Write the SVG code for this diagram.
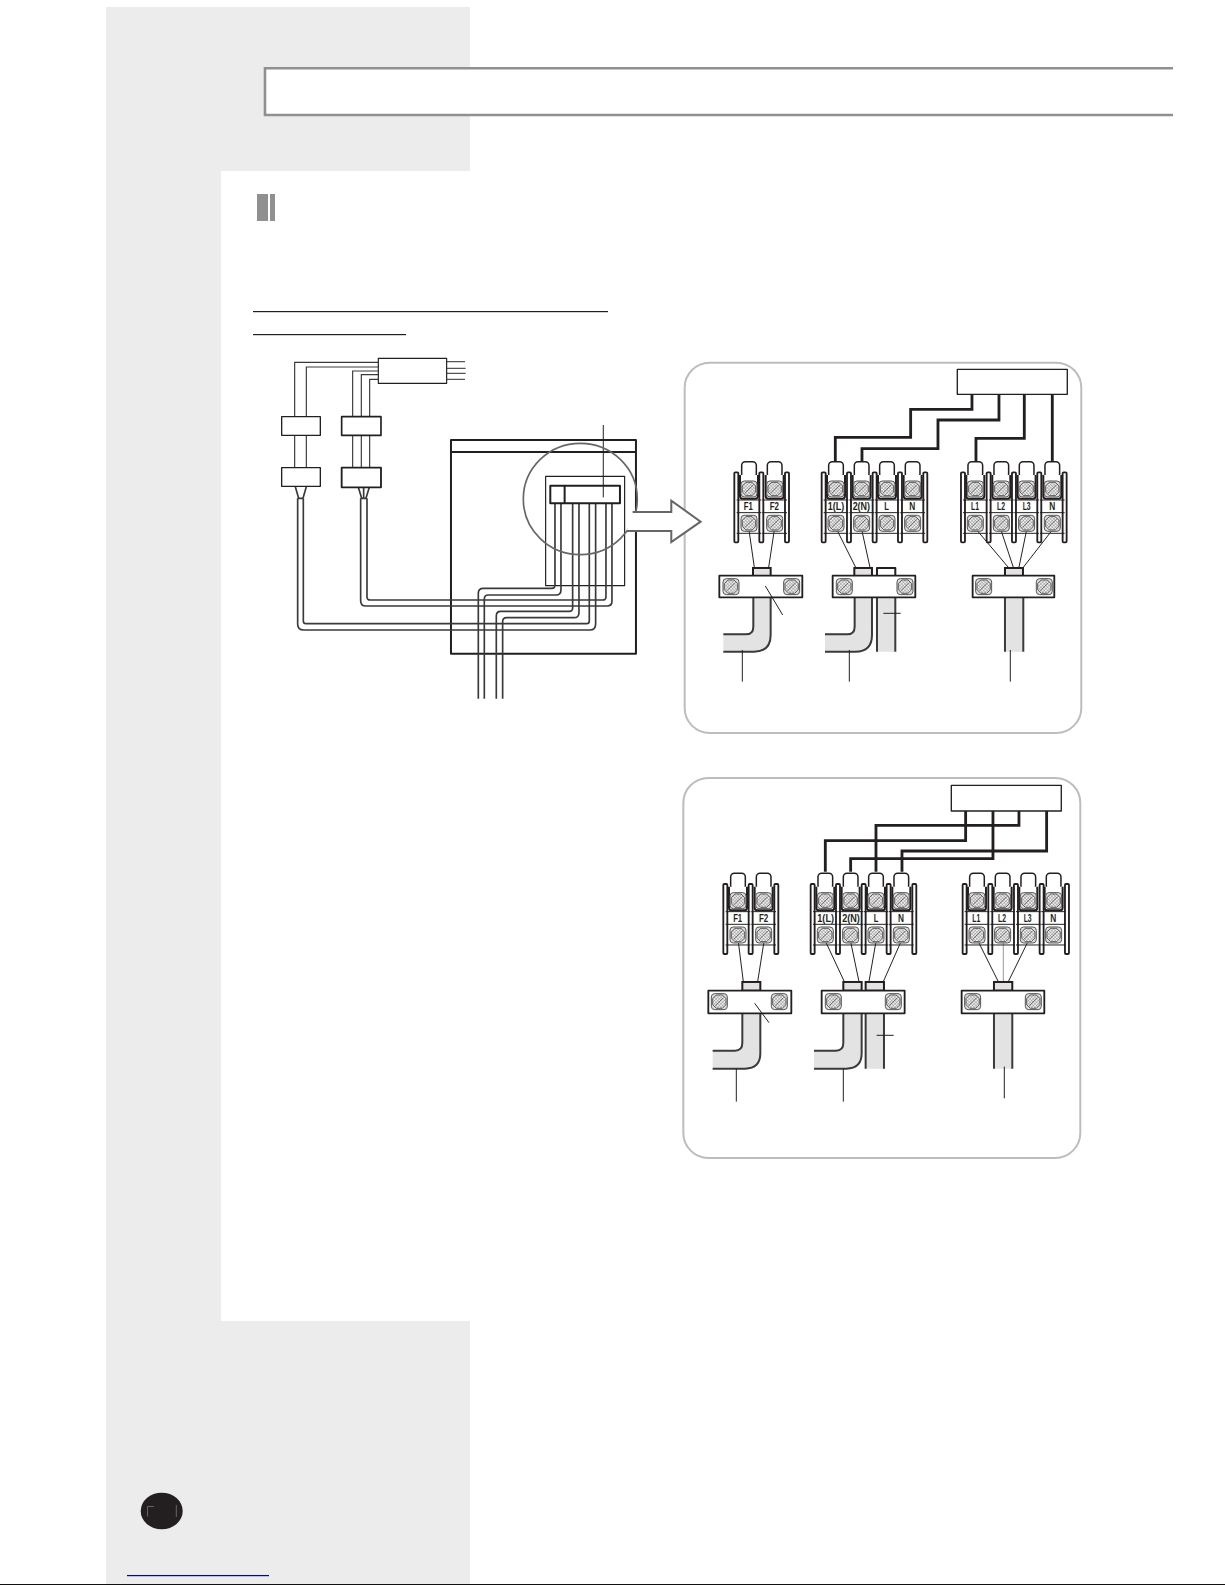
<svg xmlns="http://www.w3.org/2000/svg" xmlns:xlink="http://www.w3.org/1999/xlink" width="1225" height="1585" viewBox="0 0 1225 1585">
<style>
.k{fill:none;stroke:#231f20;stroke-linejoin:round}
.w{fill:#fff;stroke:#231f20;stroke-linejoin:round}
.g{fill:#e3e3e3;stroke:#231f20;stroke-width:6}
.cab{fill:none;stroke:#3a3a3a;stroke-width:5}
.lead{fill:none;stroke:#231f20;stroke-width:3}
.thick{fill:none;stroke:#231f20;stroke-width:8.5;stroke-linejoin:miter}
.panel{fill:#fff;stroke:#bdbdbd;stroke-width:6}
.lbl{font-family:"Liberation Sans",sans-serif;font-weight:700;font-size:33px;fill:#231f20;text-anchor:middle}
</style>
<defs>
<pattern id="hatch" width="7" height="7" patternUnits="userSpaceOnUse" patternTransform="rotate(45)">
<rect width="7" height="7" fill="#eee"/><path d="M0 0H7M0 0V7" stroke="#555" stroke-width="1.6"/>
</pattern>
<g id="screw">
<rect x="-24" y="-24" width="48" height="48" rx="10" fill="#dcdcdc" stroke="#555" stroke-width="3"/>
<path d="M-9-20H9L20-9V9L9 20H-9L-20 9V-9Z" fill="url(#hatch)" stroke="#444" stroke-width="2.5"/>
<path d="M-12 12L12-12" stroke="#444" stroke-width="2"/>
</g>
<rect id="bar" x="-6" y="0" width="12" height="210" rx="3" fill="#fff" stroke="#231f20" stroke-width="5.5"/>
<g id="cell">
<rect x="-22" y="305" width="44" height="48" rx="11" class="w" stroke-width="4.5"/>
<path d="M-27 345V408Q-27 416-19 416H19Q27 416 27 408V345" class="w" stroke-width="6"/>
<path d="M-37 420H37M-37 458H37M-37 520H37" class="k" stroke-width="3"/>
<use xlink:href="#screw" y="387"/>
<use xlink:href="#screw" y="490"/>
</g>
</defs>

<g id="background">
<path d="M106 7H470V171H221V1321H470V1584H106Z" fill="#ececec"/>
<rect x="0" y="1584" width="1225" height="1" fill="#111"/>
<rect x="127" y="1575" width="142" height="1.2" fill="#0000c0"/>
</g>

<g id="title-box">
<path d="M1173 68.3H265V115H1173" fill="#fff" stroke="#909090" stroke-width="2.6"/>
</g>

<g id="section-mark" fill="#909090">
<rect x="257" y="194" width="11" height="27"/>
<rect x="270" y="194" width="5" height="27"/>
</g>

<g id="underlines" fill="#231f20">
<rect x="253" y="311" width="355" height="1.2"/>
<rect x="253" y="334" width="153" height="1.2"/>
</g>

<g id="page-badge">
<ellipse cx="161.7" cy="1511" rx="21" ry="18.3" fill="#231f20"/>
<path d="M147.5 1516.5V1506.5H154M176.3 1505V1517" fill="none" stroke="#777" stroke-width="0.8"/>
</g>

<g id="panel-a-frame" transform="translate(680 360) scale(.3333)">
<rect class="panel" x="14" y="8" width="1190" height="1111" rx="75"/>
</g>
<g id="panel-b-frame" transform="translate(680 770) scale(.3333)">
<rect class="panel" x="10" y="24" width="1191" height="1140" rx="75"/>
</g>

<g id="wiring-overview" transform="translate(230 340) scale(.3333)">
<g id="unit-box" class="k">
<rect x="663" y="300" width="555" height="641" stroke-width="6"/>
<path d="M663 336H1218" stroke-width="6"/>
<rect x="947" y="409" width="237" height="328" stroke-width="3.5"/>
</g>
<g id="connectors">
<path class="cab" style="stroke-width:3.5" d="M445 67H194V229M445 81H229V229M445 93H368V229M445 104H394V229M445 118H419V229M194 286V383M229 286V383M368 286V383M394 286V383M419 286V383"/>
<path fill="none" stroke="#555" stroke-width="3.5" d="M650 65H705M650 85H707M650 100H707M650 118H705"/>
<path class="cab" d="M196 440L206 475M229 440L219 475M385 442L395 475M418 442L408 475M401 442V475"/>
<path class="cab" d="M203 475H220M392 475H411"/>
<path class="cab" d="M203 475V852Q203 870 221 870H1080Q1097 870 1097 852V490M220 475V843Q220 851 228 851H1070Q1078 851 1078 843V490"/>
<path class="cab" d="M392 475V782Q392 798 408 798H1132Q1146 798 1146 784V490M411 475V770Q411 780 421 780H1118Q1128 780 1128 770V490"/>
<path class="cab" d="M993 490V750Q993 765 978 765H775Q763 765 763 777V1076M975 490V735Q975 745 965 745H760Q745 745 745 760V1076"/>
<path class="cab" d="M1047 490V818Q1047 833 1032 833H830Q818 833 818 845V1076M1028 490V804Q1028 814 1018 814H812Q799 814 799 827V1076"/>
<path class="lead" d="M1120 255V472"/>
</g>
<g id="top-box"><rect x="445" y="55" width="205" height="75" class="w" stroke-width="3.5"/></g>
<g id="box-1"><rect x="155" y="230" width="116" height="56" class="w" stroke-width="4"/></g>
<g id="box-2"><rect x="335" y="230" width="118" height="56" class="w" stroke-width="5"/></g>
<g id="box-3"><rect x="155" y="383" width="116" height="56" class="w" stroke-width="4"/></g>
<g id="box-4"><rect x="335" y="383" width="118" height="59" class="w" stroke-width="5.5"/></g>
<g id="terminal">
<rect x="961" y="437" width="209" height="53" class="w" stroke-width="6"/>
<path d="M1004 437V490" class="k" stroke-width="6"/>
<path class="lead" d="M1120 437V472"/>
</g>
<g id="detail-circle"><ellipse cx="1051" cy="477" rx="171" ry="167" fill="none" stroke="#666" stroke-width="5"/></g>
<g id="detail-arrow">
<path d="M1208 516H1324V482L1412 545L1324 606V573H1190" fill="#fff" stroke="#666" stroke-width="6" stroke-linejoin="miter"/>
</g>
</g>

<g id="panel-a" transform="translate(680 360) scale(.3333)">
<g id="a-connectors">
<path class="thick" d="M876 103V148H692V232H466V305M957 103V180H774V266H546V305M1033 103V235H888V305M1117 103V305"/>
<path class="lead" d="M207 510L223 622M283 510L266 622M470 508L527 622M545 508L570 622M886 505L985 622M963 510L1000 622M1040 510L1017 622M1117 510L1030 622"/>
</g>
<g id="a-source"><rect x="832" y="28" width="330" height="75" class="w" stroke-width="4"/></g>
<g id="a-block-f">
<use xlink:href="#bar" x="169" y="337"/><use xlink:href="#bar" x="244" y="337"/><use xlink:href="#bar" x="321" y="337"/>
<use xlink:href="#cell" x="207"/><use xlink:href="#cell" x="284"/>
<text class="lbl" x="205" y="449" textLength="27" lengthAdjust="spacingAndGlyphs">F1</text><text class="lbl" x="283" y="449" textLength="28" lengthAdjust="spacingAndGlyphs">F2</text>
</g>
<g id="a-block-power">
<use xlink:href="#bar" x="431" y="337"/><use xlink:href="#bar" x="507" y="337"/><use xlink:href="#bar" x="584" y="337"/><use xlink:href="#bar" x="660" y="337"/><use xlink:href="#bar" x="736" y="337"/>
<use xlink:href="#cell" x="468"/><use xlink:href="#cell" x="545"/><use xlink:href="#cell" x="621"/><use xlink:href="#cell" x="698"/>
<text class="lbl" x="468" y="449" textLength="49" lengthAdjust="spacingAndGlyphs">1(L)</text><text class="lbl" x="544" y="449" textLength="52" lengthAdjust="spacingAndGlyphs">2(N)</text><text class="lbl" x="620" y="449" textLength="14" lengthAdjust="spacingAndGlyphs">L</text><text class="lbl" x="697" y="449" textLength="18" lengthAdjust="spacingAndGlyphs">N</text>
</g>
<g id="a-block-3ph">
<use xlink:href="#bar" x="849" y="337"/><use xlink:href="#bar" x="926" y="337"/><use xlink:href="#bar" x="1002" y="337"/><use xlink:href="#bar" x="1078" y="337"/><use xlink:href="#bar" x="1154" y="337"/>
<use xlink:href="#cell" x="886"/><use xlink:href="#cell" x="964"/><use xlink:href="#cell" x="1040"/><use xlink:href="#cell" x="1117"/>
<text class="lbl" x="885" y="449" textLength="24" lengthAdjust="spacingAndGlyphs">L1</text><text class="lbl" x="963" y="449" textLength="24" lengthAdjust="spacingAndGlyphs">L2</text><text class="lbl" x="1040" y="449" textLength="24" lengthAdjust="spacingAndGlyphs">L3</text><text class="lbl" x="1117" y="449" textLength="18" lengthAdjust="spacingAndGlyphs">N</text>
</g>
<g id="a-clamp-1">
<rect class="g" x="219" y="624" width="53" height="24"/>
<path fill="#e3e3e3" d="M130 823H197Q220 823 220 800V712H272V825Q272 875 222 875H130Z"/>
<path class="cab" style="stroke-width:6" d="M130 823H197Q220 823 220 800V712M272 712V825Q272 875 222 875H130"/>
<rect x="118" y="647" width="249" height="65" class="w" stroke-width="5.5"/>
<use xlink:href="#screw" x="153" y="680"/><use xlink:href="#screw" x="335" y="680"/>
<path class="lead" d="M256 678L308 765M187 870V965"/>
</g>
<g id="a-clamp-2">
<rect class="g" x="523" y="624" width="53" height="24"/>
<rect x="591" y="624" width="55" height="24" class="w" stroke-width="6"/>
<path fill="#e3e3e3" d="M435 823H501Q524 823 524 800V712H576V825Q576 875 526 875H435Z"/>
<path class="cab" style="stroke-width:6" d="M435 823H501Q524 823 524 800V712M576 712V825Q576 875 526 875H435"/>
<path fill="#e3e3e3" d="M591 712H646V875H591Z"/>
<path class="cab" style="stroke-width:6" d="M591 712V875M646 712V875"/>
<rect x="458" y="647" width="248" height="65" class="w" stroke-width="5.5"/>
<use xlink:href="#screw" x="493" y="680"/><use xlink:href="#screw" x="675" y="680"/>
<path class="lead" d="M610 760H662M508 870V965"/>
</g>
<g id="a-clamp-3">
<rect class="g" x="975" y="624" width="54" height="24"/>
<path fill="#e3e3e3" d="M975 712H1030V875H975Z"/>
<path class="cab" style="stroke-width:6" d="M975 712V875M1030 712V875"/>
<rect x="878" y="647" width="245" height="65" class="w" stroke-width="5.5"/>
<use xlink:href="#screw" x="911" y="680"/><use xlink:href="#screw" x="1093" y="680"/>
<path class="lead" d="M991 870V965"/>
</g>
</g>

<g id="panel-b" transform="translate(680 770) scale(.3333)">
<g id="b-connectors">
<path class="thick" d="M857 123V212H436V305M939 123V266H512V305M1017 123V166H588V305M1100 123V243H666V305"/>
<path class="lead" d="M175 515L190 635M252 515L233 635M437 515L493 635M512 515L537 635M588 515L567 635M663 515L610 635M895 515L955 635M1044 515L985 635"/>
<path fill="none" stroke="#999" stroke-width="3" d="M970 515V635"/>
</g>
<g id="b-source"><rect x="814" y="46" width="330" height="77" class="w" stroke-width="4"/></g>
<g id="b-blocks" transform="translate(0 5)">
<g id="b-block-f">
<use xlink:href="#bar" x="136" y="337"/><use xlink:href="#bar" x="212" y="337"/><use xlink:href="#bar" x="289" y="337"/>
<use xlink:href="#cell" x="174"/><use xlink:href="#cell" x="251"/>
<text class="lbl" x="173" y="452" textLength="27" lengthAdjust="spacingAndGlyphs">F1</text><text class="lbl" x="251" y="452" textLength="28" lengthAdjust="spacingAndGlyphs">F2</text>
</g>
<g id="b-block-power">
<use xlink:href="#bar" x="398" y="337"/><use xlink:href="#bar" x="474" y="337"/><use xlink:href="#bar" x="551" y="337"/><use xlink:href="#bar" x="626" y="337"/><use xlink:href="#bar" x="703" y="337"/>
<use xlink:href="#cell" x="436"/><use xlink:href="#cell" x="512"/><use xlink:href="#cell" x="588"/><use xlink:href="#cell" x="664"/>
<text class="lbl" x="437" y="452" textLength="50" lengthAdjust="spacingAndGlyphs">1(L)</text><text class="lbl" x="513" y="452" textLength="53" lengthAdjust="spacingAndGlyphs">2(N)</text><text class="lbl" x="588" y="452" textLength="14" lengthAdjust="spacingAndGlyphs">L</text><text class="lbl" x="663" y="452" textLength="18" lengthAdjust="spacingAndGlyphs">N</text>
</g>
<g id="b-block-3ph">
<use xlink:href="#bar" x="854" y="337"/><use xlink:href="#bar" x="931" y="337"/><use xlink:href="#bar" x="1008" y="337"/><use xlink:href="#bar" x="1085" y="337"/><use xlink:href="#bar" x="1161" y="337"/>
<use xlink:href="#cell" x="891"/><use xlink:href="#cell" x="968"/><use xlink:href="#cell" x="1045"/><use xlink:href="#cell" x="1121"/>
<text class="lbl" x="889" y="452" textLength="24" lengthAdjust="spacingAndGlyphs">L1</text><text class="lbl" x="966" y="452" textLength="24" lengthAdjust="spacingAndGlyphs">L2</text><text class="lbl" x="1043" y="452" textLength="24" lengthAdjust="spacingAndGlyphs">L3</text><text class="lbl" x="1120" y="452" textLength="18" lengthAdjust="spacingAndGlyphs">N</text>
</g>
</g>
<g id="b-clamp-1">
<rect class="g" x="187" y="636" width="54" height="26"/>
<path fill="#e3e3e3" d="M98 842H165Q187 842 187 819V730H241V850Q241 896 195 896H98Z"/>
<path class="cab" style="stroke-width:6" d="M98 842H165Q187 842 187 819V730M241 730V850Q241 896 195 896H98"/>
<rect x="85" y="662" width="249" height="68" class="w" stroke-width="5.5"/>
<use xlink:href="#screw" x="118" y="695"/><use xlink:href="#screw" x="298" y="695"/>
<path class="lead" d="M224 700L267 758M169 896V995"/>
</g>
<g id="b-clamp-2">
<rect class="g" x="490" y="636" width="55" height="26"/>
<rect class="g" x="557" y="636" width="55" height="26"/>
<path fill="#e3e3e3" d="M402 842H468Q490 842 490 819V730H545V850Q545 896 499 896H402Z"/>
<path class="cab" style="stroke-width:6" d="M402 842H468Q490 842 490 819V730M545 730V850Q545 896 499 896H402"/>
<path fill="#e3e3e3" d="M557 730H612V896H557Z"/>
<path class="cab" style="stroke-width:6" d="M557 730V896M612 730V896"/>
<rect x="425" y="662" width="249" height="68" class="w" stroke-width="5.5"/>
<use xlink:href="#screw" x="460" y="695"/><use xlink:href="#screw" x="640" y="695"/>
<path class="lead" d="M590 796H641M490 896V995"/>
</g>
<g id="b-clamp-3">
<rect class="g" x="942" y="636" width="55" height="26"/>
<path fill="#e3e3e3" d="M942 730H997V896H942Z"/>
<path class="cab" style="stroke-width:6" d="M942 730V896M997 730V896"/>
<rect x="845" y="662" width="248" height="68" class="w" stroke-width="5.5"/>
<use xlink:href="#screw" x="878" y="695"/><use xlink:href="#screw" x="1060" y="695"/>
<path class="lead" d="M973 890V985"/>
</g>
</g>
</svg>
